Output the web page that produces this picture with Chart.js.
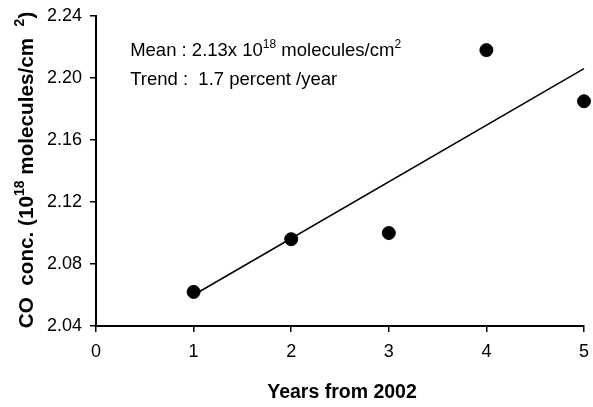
<!DOCTYPE html>
<html lang="en">
<head>
    <meta charset="UTF-8">
    <title>CO concentration trend</title>
    <script src="https://cdn.jsdelivr.net/npm/chart.js@4.4.1/dist/chart.umd.min.js"></script>
    <style>
        html, body { margin: 0; padding: 0; background: #fff; }
        #wrap { width: 593px; height: 407px; }
    </style>
</head>
<body>
<div id="wrap">
    <canvas id="myChart" width="593" height="407"></canvas>
</div>

<script>
    // values
    const years = [1, 2, 3, 4, 5];
    const coConc = [2.062, 2.096, 2.100, 2.218, 2.185];
    const trendX = [1, 5];
    const trendY = [2.060, 2.206];
    const yTicks = [2.04, 2.08, 2.12, 2.16, 2.20, 2.24];
    const xTicks = [0, 1, 2, 3, 4, 5];

    const FONT = "'Liberation Sans', Arial, sans-serif";

    // draws text pieces, some of them raised as superscripts
    function drawRich(ctx, parts, x, y, size, weight) {
        parts.forEach(p => {
            let s = p.sup ? Math.round(size * 0.66) : size;
            ctx.font = weight + " " + s + "px " + FONT;
            ctx.fillText(p.t, x, p.sup ? y - size * 0.45 : y);
            x += ctx.measureText(p.t).width;
        });
    }

    function richWidth(ctx, parts, size, weight) {
        let w = 0;
        parts.forEach(p => {
            let s = p.sup ? Math.round(size * 0.66) : size;
            ctx.font = weight + " " + s + "px " + FONT;
            w += ctx.measureText(p.t).width;
        });
        return w;
    }

    const labelsPlugin = {
        id: 'labels',
        afterDraw(chart) {
            const ctx = chart.ctx;
            const xs = chart.scales.x, ys = chart.scales.y;
            ctx.save();
            ctx.fillStyle = '#000';
            ctx.textBaseline = 'alphabetic';
            ctx.textAlign = 'left';

            // note box in the upper left
            let nx = xs.getPixelForValue(0.35);
            drawRich(ctx, [{t: 'Mean : 2.13x 10'}, {t: '18', sup: true}, {t: ' molecules/cm'}, {t: '2', sup: true}],
                nx, ys.getPixelForValue(2.2139), 18.5, 'normal');
            drawRich(ctx, [{t: 'Trend :  1.7 percent /year'}],
                nx, ys.getPixelForValue(2.1955), 18.5, 'normal');

            // x axis title
            ctx.font = 'bold 19.5px ' + FONT;
            ctx.textAlign = 'center';
            ctx.fillText('Years from 2002', 342, 398);

            // y axis title, rotated
            const yParts = [{t: 'CO  conc. (10'}, {t: '18', sup: true}, {t: ' molecules/cm  '}, {t: '2', sup: true}, {t: ')'}];
            ctx.textAlign = 'left';
            ctx.translate(33, 170);
            ctx.rotate(-Math.PI / 2);
            let w = richWidth(ctx, yParts, 20.7, 'bold');
            drawRich(ctx, yParts, -w / 2, 0, 20.7, 'bold');
            ctx.restore();
        }
    };

    const canvas = document.getElementById('myChart');

    new Chart(canvas, {
        type: 'scatter',
        data: {
            datasets: [{
                data: years.map((x, i) => ({x: x, y: coConc[i]})),
                backgroundColor: '#000',
                borderColor: '#000',
                pointRadius: 6.5,
                pointHoverRadius: 6.5,
                clip: false
            }, {
                type: 'line',
                data: trendX.map((x, i) => ({x: x, y: trendY[i]})),
                borderColor: '#000',
                borderWidth: 1.5,
                pointRadius: 0,
                fill: false,
                clip: false
            }]
        },
        options: {
            responsive: false,
            animation: false,
            events: [],
            layout: {padding: {top: 16, right: 9, left: 0, bottom: 0}},
            plugins: {legend: {display: false}, tooltip: {enabled: false}},
            scales: {
                x: {
                    type: 'linear',
                    min: 0,
                    max: 5,
                    afterBuildTicks: s => { s.ticks = xTicks.map(v => ({value: v})); },
                    afterFit: s => { s.height = 81; s.paddingLeft = 0; s.paddingRight = 0; },
                    border: {color: '#000', width: 2},
                    grid: {drawOnChartArea: false, drawTicks: true, tickLength: 6, color: '#000', lineWidth: 1.5},
                    ticks: {color: '#000', padding: 9, font: {family: FONT, size: 18}}
                },
                y: {
                    type: 'linear',
                    min: 2.04,
                    max: 2.24,
                    afterBuildTicks: s => { s.ticks = yTicks.map(v => ({value: v})); },
                    afterFit: s => { s.width = 96; s.paddingTop = 0; s.paddingBottom = 0; },
                    border: {color: '#000', width: 2},
                    grid: {drawOnChartArea: false, drawTicks: true, tickLength: 6, color: '#000', lineWidth: 1.5},
                    ticks: {color: '#000', padding: 8, font: {family: FONT, size: 18},
                        callback: v => v.toFixed(2)}
                }
            }
        },
        plugins: [labelsPlugin]
    });
</script>
</body>
</html>
